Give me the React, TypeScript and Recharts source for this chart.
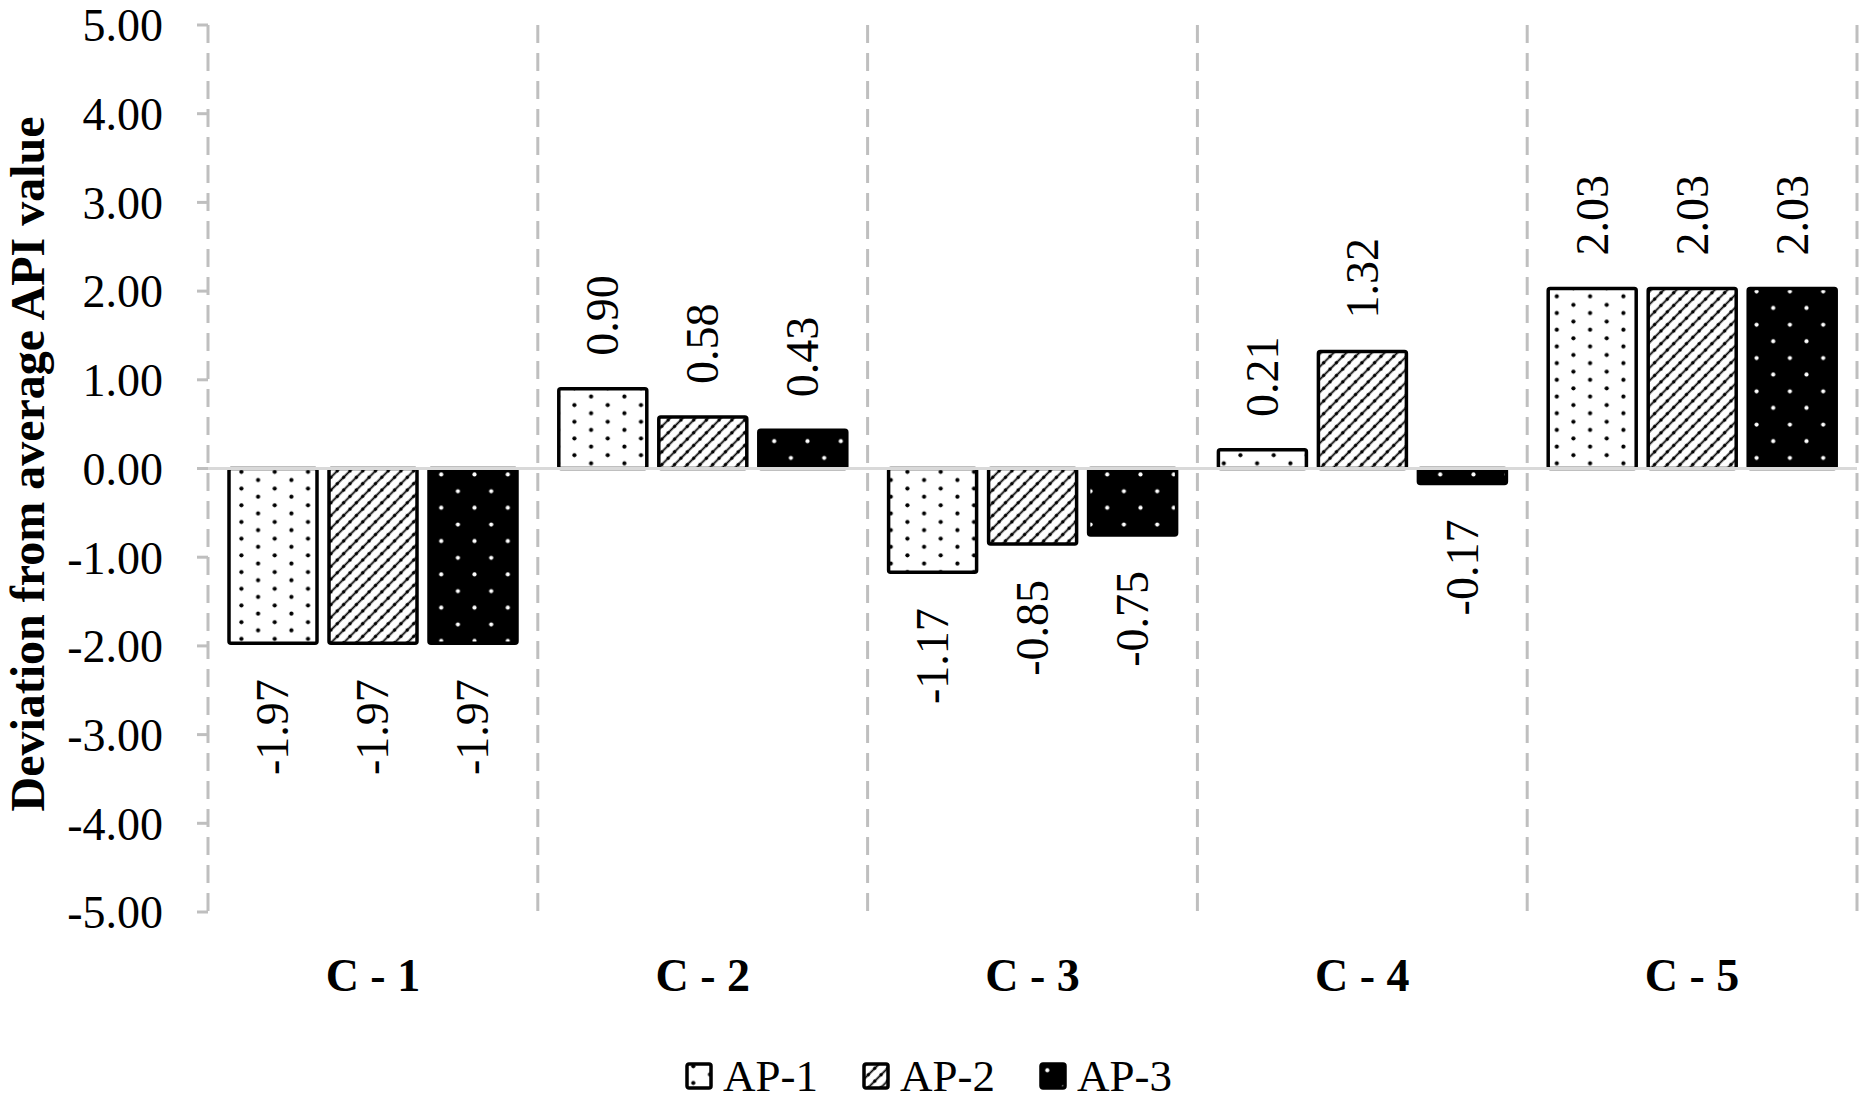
import {
  Bar,
  BarChart,
  CartesianGrid,
  Label,
  LabelList,
  Legend,
  ReferenceLine,
  XAxis,
  YAxis,
} from 'recharts';

const categories = ['C - 1', 'C - 2', 'C - 3', 'C - 4', 'C - 5'];
const ap1Values = [-1.97, 0.9, -1.17, 0.21, 2.03];
const ap2Values = [-1.97, 0.58, -0.85, 1.32, 2.03];
const ap3Values = [-1.97, 0.43, -0.75, -0.17, 2.03];
const yTicks = [-5, -4, -3, -2, -1, 0, 1, 2, 3, 4, 5];

const series = [
  { key: 'ap1', name: 'AP-1', fill: 'url(#pat-ap1)' },
  { key: 'ap2', name: 'AP-2', fill: 'url(#pat-ap2)' },
  { key: 'ap3', name: 'AP-3', fill: 'url(#pat-ap3)' },
];

const chartData = categories.map((cat, i) => ({
  cat,
  ap1: ap1Values[i],
  ap2: ap2Values[i],
  ap3: ap3Values[i],
}));

const FONT = "'Liberation Serif', 'Times New Roman', serif";
const GRID = '#bfbfbf';

function Patterns() {
  return (
    <svg width={0} height={0} style={{ position: 'absolute' }}>
      <defs>
        <pattern id="pat-ap1" patternUnits="userSpaceOnUse" width={33.3} height={16.7}>
          <rect width={33.3} height={16.7} fill="#fff" />
          <circle cx={8.3} cy={4.2} r={2.1} fill="#000" />
          <circle cx={25} cy={12.5} r={2.1} fill="#000" />
        </pattern>
        <pattern
          id="pat-ap2"
          patternUnits="userSpaceOnUse"
          width={9}
          height={9}
          patternTransform="rotate(45)"
        >
          <rect width={9} height={9} fill="#fff" />
          <line x1={4.5} y1={0} x2={4.5} y2={9} stroke="#000" strokeWidth={1.8} />
          <circle cx={4.5} cy={4.5} r={1.7} fill="#000" />
        </pattern>
        <pattern id="pat-ap3" patternUnits="userSpaceOnUse" width={33.3} height={33.3}>
          <rect width={33.3} height={33.3} fill="#000" />
          <circle cx={8.3} cy={8.3} r={2.1} fill="#fff" />
          <circle cx={25} cy={25} r={2.1} fill="#fff" />
        </pattern>
      </defs>
    </svg>
  );
}

// rotated value labels, above positive bars and below negative ones
const renderValueLabel = (props: any) => {
  const vb = props.viewBox ?? props;
  const { x, y, width, height } = vb;
  const v = Number(props.value);
  const cx = x + width / 2;
  const top = Math.min(y, y + height);
  const bottom = Math.max(y, y + height);
  const ly = v >= 0 ? top - 33 : bottom + 36;
  return (
    <text
      x={cx}
      y={ly}
      transform={`rotate(-90, ${cx}, ${ly})`}
      textAnchor={v >= 0 ? 'start' : 'end'}
      dominantBaseline="central"
      fontSize={46}
      fill="#000"
    >
      {v.toFixed(2)}
    </text>
  );
};

const renderYTitle = (props: any) => {
  const vb = props.viewBox;
  const x = vb.x + 44;
  const y = 464;
  return (
    <text
      x={x}
      y={y}
      transform={`rotate(-90, ${x}, ${y})`}
      textAnchor="middle"
      fontSize={48}
      fontWeight="bold"
      fill="#000"
    >
      Deviation from average API value
    </text>
  );
};

function LegendContent() {
  return (
    <div
      style={{
        height: 62,
        boxSizing: 'border-box',
        paddingTop: 23,
        display: 'flex',
        justifyContent: 'center',
        gap: 44,
        fontFamily: FONT,
      }}
    >
      {series.map((s) => (
        <div key={s.key} style={{ display: 'flex', alignItems: 'center', height: 30 }}>
          <svg width={28} height={28} style={{ marginRight: 10 }}>
            <rect x={2} y={2} width={24} height={24} rx={2} fill={s.fill} stroke="#000" strokeWidth={3.5} />
          </svg>
          <span style={{ fontSize: 45, lineHeight: '30px', color: '#000' }}>{s.name}</span>
        </div>
      ))}
    </div>
  );
}

export default function App() {
  return (
    <div style={{ width: 1866, height: 1100, background: '#fff', fontFamily: FONT }}>
      <style>{'body{margin:0}'}</style>
      <Patterns />
      <BarChart
        width={1866}
        height={1100}
        data={chartData}
        margin={{ top: 25, right: 9, bottom: 0, left: 0 }}
        barCategoryGap={21}
        barGap={12}
      >
        <CartesianGrid
          horizontal={false}
          stroke={GRID}
          strokeWidth={3}
          strokeDasharray="18 10"
          verticalCoordinatesGenerator={({ offset }: any) =>
            [1, 2, 3, 4, 5].map((k) => offset.left + (offset.width * k) / categories.length)
          }
        />
        <XAxis
          dataKey="cat"
          axisLine={false}
          tickLine={false}
          tickSize={0}
          tickMargin={46}
          height={126}
          tick={{ fontSize: 46, fontWeight: 'bold', fill: '#000' }}
        />
        <YAxis
          width={208}
          domain={[-5, 5]}
          ticks={yTicks}
          interval={0}
          tickFormatter={(v: number) => v.toFixed(2)}
          axisLine={{ stroke: GRID, strokeWidth: 3, strokeDasharray: '18 10' }}
          tickLine={{ stroke: GRID, strokeWidth: 3 }}
          tickSize={11}
          tickMargin={34}
          tick={{ fontSize: 46, fill: '#000' }}
        >
          <Label content={renderYTitle} />
        </YAxis>
        <ReferenceLine y={0} stroke="#d9d9d9" strokeWidth={3} />
        <Legend verticalAlign="bottom" content={<LegendContent />} />
        {series.map((s) => (
          <Bar
            key={s.key}
            dataKey={s.key}
            name={s.name}
            fill={s.fill}
            stroke="#000"
            strokeWidth={3.5}
            radius={2}
            isAnimationActive={false}
          >
            <LabelList dataKey={s.key} content={renderValueLabel} />
          </Bar>
        ))}
      </BarChart>
    </div>
  );
}
